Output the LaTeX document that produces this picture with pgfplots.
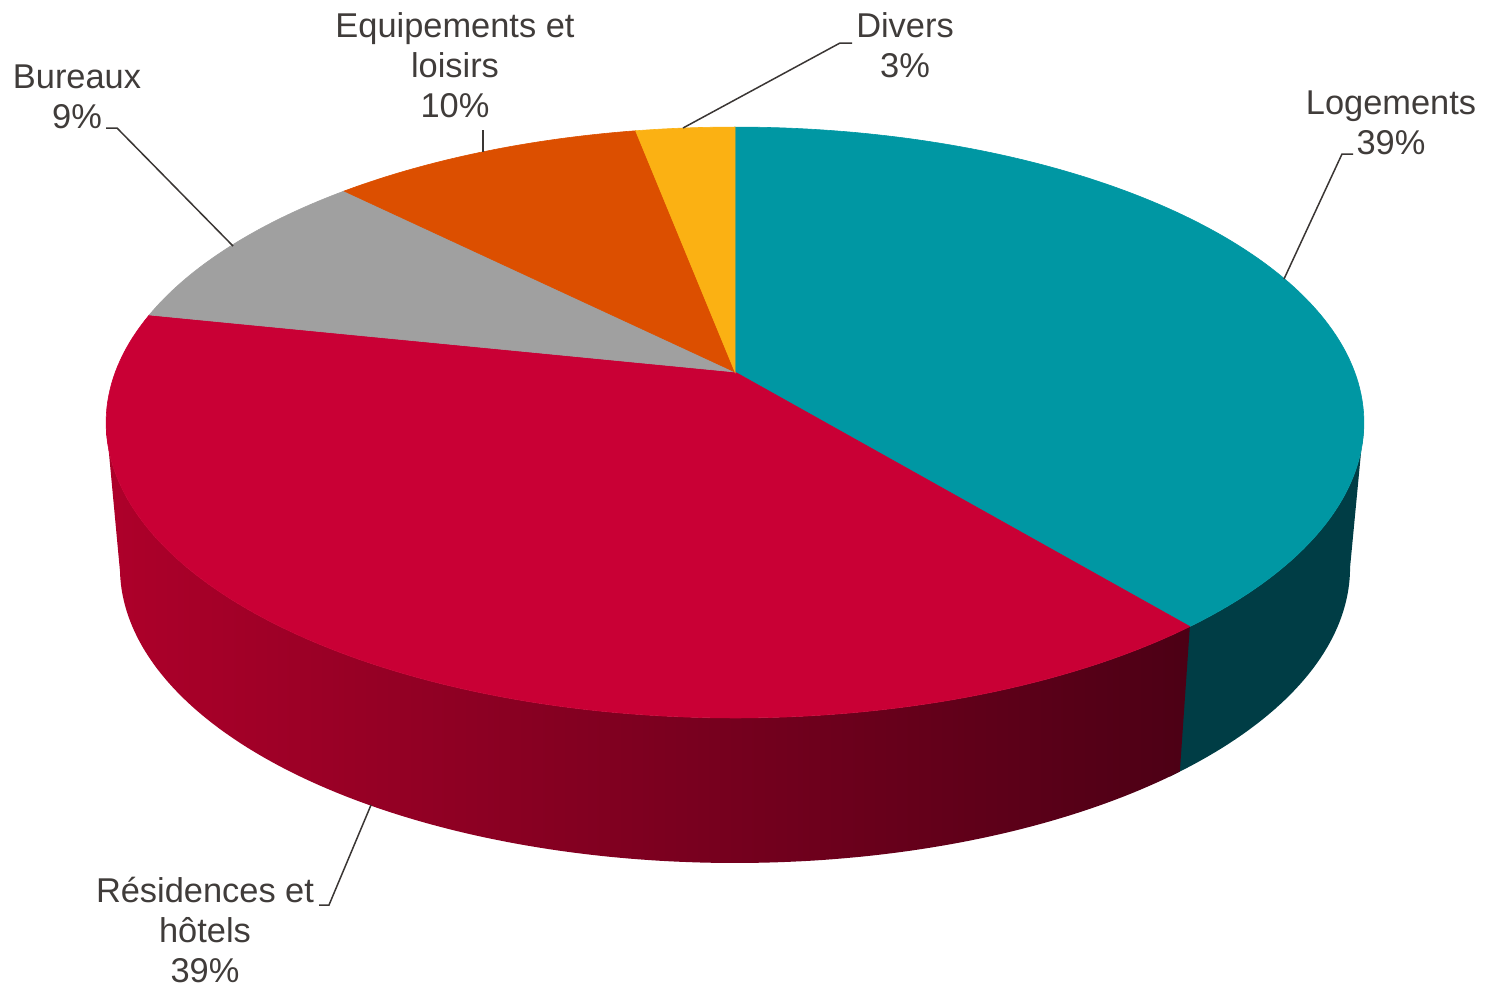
\documentclass[border=0pt]{standalone}
\usepackage{pgfplots}
\pgfplotsset{compat=1.18}
\usepackage{pgfplotstable}
\usepackage{fontspec}
\setmainfont{Liberation Sans}
\definecolor{cLog}{HTML}{0097A3}
\definecolor{cLogS}{HTML}{003D45}
\definecolor{cRes}{HTML}{C90035}
\definecolor{cResL}{HTML}{AE002A}
\definecolor{cResR}{HTML}{4C0015}
\definecolor{cBur}{HTML}{A0A0A0}
\definecolor{cEqu}{HTML}{DC4F00}
\definecolor{cDiv}{HTML}{FBB113}
\definecolor{txt}{HTML}{403C3A}
\definecolor{lead}{HTML}{3A3634}

\pgfplotstableread{
name value
Logements 39.0
Residences 39.3
Bureaux 9.2
Equipements 9.5
Divers 3.0
}\piedata

\begin{document}
\begin{tikzpicture}[lab/.style={font=\fontsize{17.2}{20}\selectfont, text=txt, align=center, inner sep=0pt}]
\pgfplotstablegetelem{0}{value}\of\piedata\let\vLog\pgfplotsretval
\pgfplotstablegetelem{1}{value}\of\piedata\let\vRes\pgfplotsretval
\pgfplotstablegetelem{2}{value}\of\piedata\let\vBur\pgfplotsretval
\pgfplotstablegetelem{3}{value}\of\piedata\let\vEqu\pgfplotsretval
\pgfplotstablegetelem{4}{value}\of\piedata\let\vDiv\pgfplotsretval
\pgfmathsetmacro\aA{0}
\pgfmathsetmacro\aB{\aA+3.6*\vLog}
\pgfmathsetmacro\aC{\aB+3.6*\vRes}
\pgfmathsetmacro\aD{\aC+3.6*\vBur}
\pgfmathsetmacro\aE{\aD+3.6*\vEqu}
\pgfmathsetmacro\aF{\aE+3.6*\vDiv}
\pgfmathsetmacro\aBx{\aB+1.5}
\begin{axis}[
  scale only axis, width=748pt, height=493.5pt,
  xmin=0, xmax=1496, ymin=0, ymax=987, y dir=reverse,
  hide axis, clip=false,
  declare function={
    PX(\a,\f)=735+3625*(1-0.022*\f)*sin(\a)/(5.85+cos(\a));
    PY(\a,\f)=372+145*\f-1678*cos(\a)/(5.85+cos(\a));
  },
]
\draw[draw=none] (axis cs:0,0) rectangle (axis cs:1496,987);
% side walls
\addplot[draw=none, fill=cLogS, domain=0:2, samples=241, variable=\t]
  ({PX(99.84+(\aBx-99.84)*(1-abs(1-\t)), \t>1)}, {PY(99.84+(\aBx-99.84)*(1-abs(1-\t)), \t>1)}) -- cycle;
\addplot[draw=none, left color=cResL, right color=cResR, domain=0:2, samples=301, variable=\t]
  ({PX(\aB+(260.16-\aB)*(1-abs(1-\t)), \t>1)}, {PY(\aB+(260.16-\aB)*(1-abs(1-\t)), \t>1)}) -- cycle;
% top faces
\addplot[draw=cLog, line width=0.3pt, fill=cLog, domain=\aA:\aB, samples=120, variable=\t]
  ({PX(\t,0)}, {PY(\t,0)}) -- (axis cs:735,372) -- cycle;
\addplot[draw=cRes, line width=0.3pt, fill=cRes, domain=\aB:\aC, samples=120, variable=\t]
  ({PX(\t,0)}, {PY(\t,0)}) -- (axis cs:735,372) -- cycle;
\addplot[draw=cBur, line width=0.3pt, fill=cBur, domain=\aC:\aD, samples=40, variable=\t]
  ({PX(\t,0)}, {PY(\t,0)}) -- (axis cs:735,372) -- cycle;
\addplot[draw=cEqu, line width=0.3pt, fill=cEqu, domain=\aD:\aE, samples=40, variable=\t]
  ({PX(\t,0)}, {PY(\t,0)}) -- (axis cs:735,372) -- cycle;
\addplot[draw=cDiv, line width=0.3pt, fill=cDiv, domain=\aE:\aF, samples=20, variable=\t]
  ({PX(\t,0)}, {PY(\t,0)}) -- (axis cs:735,372) -- cycle;
% leader lines
\draw[lead, line width=0.75pt] (axis cs:1353,154) -- (axis cs:1342,154) -- (axis cs:1284,279);
\draw[lead, line width=0.75pt] (axis cs:106,128) -- (axis cs:117,128) -- (axis cs:233,246);
\draw[lead, line width=0.75pt] (axis cs:483,130) -- (axis cs:483,152);
\draw[lead, line width=0.75pt] (axis cs:852,43) -- (axis cs:840,43) -- (axis cs:683,128);
\draw[lead, line width=0.75pt] (axis cs:319,905) -- (axis cs:329,905) -- (axis cs:371,805);
% labels
\node[lab] at (axis cs:1391,123) {Logements\\39\%};
\node[lab] at (axis cs:77,97) {Bureaux\\9\%};
\node[lab] at (axis cs:455,65) {Equipements et\\loisirs\\10\%};
\node[lab] at (axis cs:905,45) {Divers\\3\%};
\node[lab] at (axis cs:205,930) {Résidences et\\hôtels\\39\%};
\end{axis}
\end{tikzpicture}
\end{document}
